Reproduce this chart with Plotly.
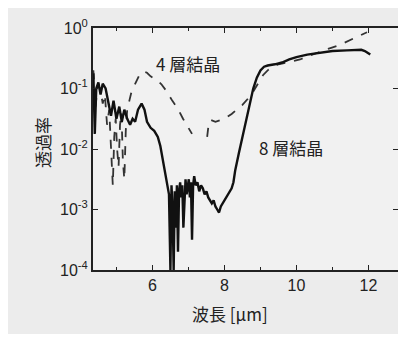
import plotly.graph_objects as go

# 8-layer crystal (solid line): wavelength [um] and log10 transmittance
wl_8 = [4.36, 4.40, 4.44, 4.50, 4.56, 4.62, 4.70, 4.78, 4.85, 4.92, 5.00, 5.08, 5.15, 5.22,
        5.30, 5.38, 5.45, 5.52, 5.60, 5.70, 5.78, 5.85, 5.95, 6.05, 6.15, 6.22, 6.30, 6.36,
        6.42, 6.46, 6.50, 6.53, 6.56, 6.59, 6.62, 6.65, 6.68, 6.71, 6.74, 6.77, 6.80, 6.83,
        6.86, 6.89, 6.92, 6.95, 6.98, 7.01, 7.04, 7.07, 7.10, 7.13, 7.16, 7.20, 7.25, 7.30,
        7.35, 7.40, 7.45, 7.50, 7.55, 7.60, 7.65, 7.70, 7.75, 7.80, 7.85, 7.90, 7.95, 8.00,
        8.05, 8.10, 8.15, 8.20, 8.25, 8.30, 8.40, 8.50, 8.60, 8.70, 8.80, 8.90, 9.00, 9.10,
        9.20, 9.40, 9.60, 9.80, 10.0, 10.3, 10.6, 11.0, 11.4, 11.8, 11.9, 12.05]
log_t_8 = [-0.75, -1.75, -1.00, -0.90, -1.10, -0.92, -1.00, -1.25, -1.45, -1.20, -1.50, -1.30, -1.55, -1.35,
           -1.50, -1.60, -1.50, -1.55, -1.35, -1.25, -1.35, -1.55, -1.65, -1.70, -1.80, -1.95, -2.20, -2.40,
           -2.60, -2.75, -4.00, -2.60, -3.00, -4.00, -2.70, -3.30, -2.60, -3.70, -2.70, -2.55, -2.80, -2.60,
           -3.30, -2.70, -2.50, -2.75, -2.60, -2.50, -2.80, -2.55, -3.50, -2.60, -2.45, -2.60, -2.55, -2.70,
           -2.60, -2.65, -2.75, -2.70, -2.80, -2.85, -2.90, -2.85, -2.95, -3.00, -3.05, -2.95, -2.90, -2.85,
           -2.80, -2.75, -2.70, -2.65, -2.55, -2.35, -2.07, -1.80, -1.53, -1.25, -1.00, -0.82, -0.70, -0.64,
           -0.62, -0.60, -0.57, -0.52, -0.48, -0.44, -0.41, -0.38, -0.37, -0.36, -0.38, -0.44]

# 4-layer crystal (dashed line); None marks the gap in the measured data
wl_4 = [4.36, 4.42, 4.48, 4.55, 4.62, 4.68, 4.74, 4.80, 4.86, 4.90, 4.94, 4.98, 5.02, 5.06,
        5.10, 5.14, 5.18, 5.22, 5.26, 5.30, 5.36, 5.42, 5.50, 5.58, 5.66, 5.75, 5.85, 5.95,
        6.10, 6.25, 6.40, 6.55, 6.70, 6.85, 6.98, 7.10, 7.30,
        7.52, 7.56, 7.62, 7.75, 7.90, 8.05, 8.20, 8.35, 8.50, 8.65, 8.80, 8.95, 9.07, 9.20,
        9.35, 9.50, 9.80, 10.1, 10.35, 10.6, 10.9, 11.2, 11.45, 11.7, 11.96]
log_t_4 = [-0.70, -1.30, -0.95, -1.00, -1.25, -1.10, -1.60, -1.35, -2.10, -2.60, -1.80, -1.50, -2.00, -2.30,
           -1.60, -1.40, -2.20, -2.50, -1.70, -1.35, -1.20, -1.05, -0.95, -0.85, -0.75, -0.72, -0.74, -0.80,
           -0.85, -0.93, -1.05, -1.20, -1.33, -1.50, -1.63, -1.75, None,
           -1.80, -1.60, -1.52, -1.55, -1.52, -1.48, -1.42, -1.35, -1.27, -1.17, -1.05, -0.90, -0.78, -0.70,
           -0.64, -0.60, -0.56, -0.52, -0.46, -0.40, -0.34, -0.28, -0.21, -0.15, -0.07]

y_tick_exp = [-4, -3, -2, -1, 0]
x_ticks = [6, 8, 10, 12]

t_8 = [10 ** v for v in log_t_8]
t_4 = [None if v is None else 10 ** v for v in log_t_4]

ink = "#222222"
font_fam = "Arial, Liberation Sans, Noto Sans CJK JP, sans-serif"
cjk_fam = "Noto Sans CJK JP, sans-serif"

# the page body adds an 8 px offset, so the figure is 8 px smaller on each side
W, H = 398, 326
ML, MR, MT, MB = 85, 8, 20, 64

fig = go.Figure()
fig.add_trace(go.Scatter(x=wl_4, y=t_4, mode="lines", connectgaps=False,
                         line=dict(color="#333333", width=1.8, dash="dash"), showlegend=False))
fig.add_trace(go.Scatter(x=wl_8, y=t_8, mode="lines",
                         line=dict(color="#111111", width=2.4), showlegend=False))

fig.update_layout(
    width=W, height=H,
    margin=dict(l=ML, r=MR, t=MT, b=MB, autoexpand=False),
    paper_bgcolor="#ececec", plot_bgcolor="#f1f1f1",
    font=dict(family=font_fam, size=16, color=ink),
    xaxis=dict(range=[4.35, 12.82], tickvals=x_ticks, ticks="inside", ticklen=5,
               tickcolor=ink, showline=True, linecolor=ink, linewidth=2, mirror="allticks",
               showgrid=False, zeroline=False, automargin=False,
               minor=dict(dtick=1, tick0=0, ticks="inside", ticklen=3, tickcolor=ink, showgrid=False),
               tickfont=dict(size=16, color=ink)),
    yaxis=dict(type="log", range=[-4, 0], tickvals=[10 ** e for e in y_tick_exp],
               ticktext=[f"10<sup>{e}</sup>" for e in y_tick_exp],
               ticks="inside", ticklen=5, tickcolor=ink, showline=True, linecolor=ink, linewidth=2,
               mirror="allticks", showgrid=False, zeroline=False, automargin=False,
               tickfont=dict(size=16, color=ink)),
)

fig.add_annotation(text="4 層結晶", x=6.05, y=-0.58, xref="x", yref="y",
                   xanchor="left", yanchor="middle",
                   showarrow=False, font=dict(family=cjk_fam, size=17, color=ink))
fig.add_annotation(text="8 層結晶", x=8.9, y=-1.97, xref="x", yref="y",
                   xanchor="left", yanchor="middle",
                   showarrow=False, font=dict(family=cjk_fam, size=17, color=ink))


def to_paper(px, py):
    # px, py are window pixels; subtract the 8 px page offset
    px, py = px - 8, py - 8
    return (px - ML) / (W - ML - MR), 1 - (py - MT) / (H - MT - MB)


tx, ty = to_paper(230, 313)
fig.add_annotation(text="波長 [μm]", x=tx, y=ty, xref="paper", yref="paper", showarrow=False,
                   xanchor="center", yanchor="middle",
                   font=dict(family=cjk_fam, size=17, color=ink))
yx, yy = to_paper(42, 143)
fig.add_annotation(text="透過率", x=yx, y=yy, xref="paper", yref="paper", textangle=-90,
                   xanchor="center", yanchor="middle",
                   showarrow=False, font=dict(family=cjk_fam, size=17, color=ink))

fig.write_html("out.html")
